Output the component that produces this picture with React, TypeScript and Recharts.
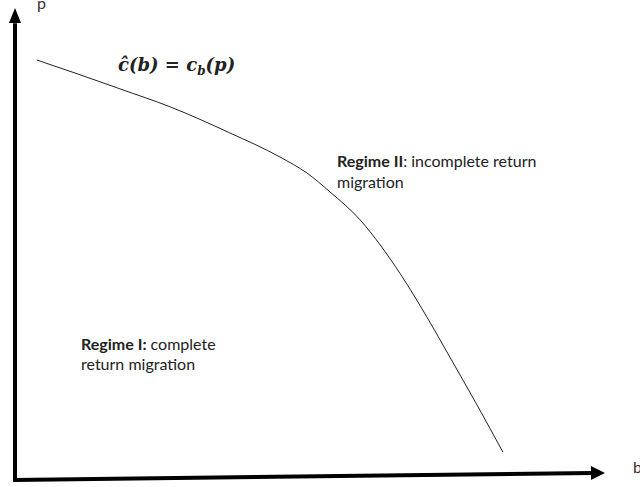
import React from "react";
import { LineChart, Line, XAxis, YAxis, ReferenceLine, ReferenceDot } from "recharts";

// curve c-hat(b) = c_b(p) (b and p in 0..100 units)
const bValues = [3.7, 11.0, 17.8, 26.3, 36.4, 44.9, 49.5, 53.4, 58.5, 61.9, 65.3, 69.8, 73.7, 78.3, 82.7];
const pValues = [89.0, 85.9, 82.9, 79.1, 73.6, 68.5, 65.1, 61.1, 55.2, 49.9, 43.8, 34.7, 26.2, 16.1, 6.1];

// axis endpoints (data units)
const xAxisSeg = [
  { x: -0.2, y: 0.2 },
  { x: 97.8, y: 1.7 },
];
const yAxisSeg = [
  { x: 0, y: -0.2 },
  { x: 0, y: 96.8 },
];
const xArrowTip = { x: 100, y: 1.7 };
const yArrowTip = { x: 0, y: 100 };

const curveData = bValues.map((b, i) => ({ b, p: pValues[i] }));

const W = 640;
const H = 487;

const sansFont = "Lato, 'Open Sans', sans-serif";

const RightArrow = (props: any) => {
  const { cx, cy } = props;
  return <polygon points={`${cx},${cy} ${cx - 14},${cy - 7} ${cx - 14},${cy + 7}`} fill="#000" />;
};
const UpArrow = (props: any) => {
  const { cx, cy } = props;
  return <polygon points={`${cx},${cy} ${cx - 6},${cy + 15} ${cx + 6},${cy + 15}`} fill="#000" />;
};

export default function App() {
  return (
    <div style={{ position: "absolute", left: 0, top: 0, width: W, height: H, background: "#fff", overflow: "hidden" }}>
      <LineChart width={W} height={H} data={curveData} margin={{ top: 8, right: 35, bottom: 6, left: 15 }}>
        <XAxis type="number" dataKey="b" domain={[0, 100]} hide />
        <YAxis type="number" domain={[0, 100]} hide />
        <ReferenceLine segment={xAxisSeg} stroke="#000" strokeWidth={4} ifOverflow="visible" />
        <ReferenceLine segment={yAxisSeg} stroke="#000" strokeWidth={4} ifOverflow="visible" />
        <ReferenceDot x={xArrowTip.x} y={xArrowTip.y} r={0} ifOverflow="visible" shape={RightArrow} />
        <ReferenceDot x={yArrowTip.x} y={yArrowTip.y} r={0} ifOverflow="visible" shape={UpArrow} />
        <Line
          type="monotone"
          dataKey="p"
          stroke="#222"
          strokeWidth={1}
          dot={false}
          isAnimationActive={false}
        />
      </LineChart>
      <svg width={W} height={H} style={{ position: "absolute", left: 0, top: 0, pointerEvents: "none" }}>
        <text x={37} y={9} fontFamily={sansFont} fontSize={16} fill="#333">p</text>
        <text x={118} y={71} fontFamily="'DejaVu Serif', serif" fontWeight="bold" fontStyle="italic" fontSize={18} fill="#222">
          ĉ(b) = c
          <tspan fontSize={12} dy={4}>b</tspan>
          <tspan dy={-4}>(p)</tspan>
        </text>
        <text x={337} y={167} fontFamily={sansFont} fontSize={16} fill="#222">
          <tspan fontWeight="bold">Regime II</tspan>: incomplete return
        </text>
        <text x={337} y={188} fontFamily={sansFont} fontSize={16} fill="#222">migration</text>
        <text x={81} y={350} fontFamily={sansFont} fontSize={16} fill="#222">
          <tspan fontWeight="bold">Regime I:</tspan> complete
        </text>
        <text x={81} y={370} fontFamily={sansFont} fontSize={16} fill="#222">return migration</text>
        <text x={633} y={473} fontFamily={sansFont} fontSize={16} fill="#333">b</text>
      </svg>
    </div>
  );
}
